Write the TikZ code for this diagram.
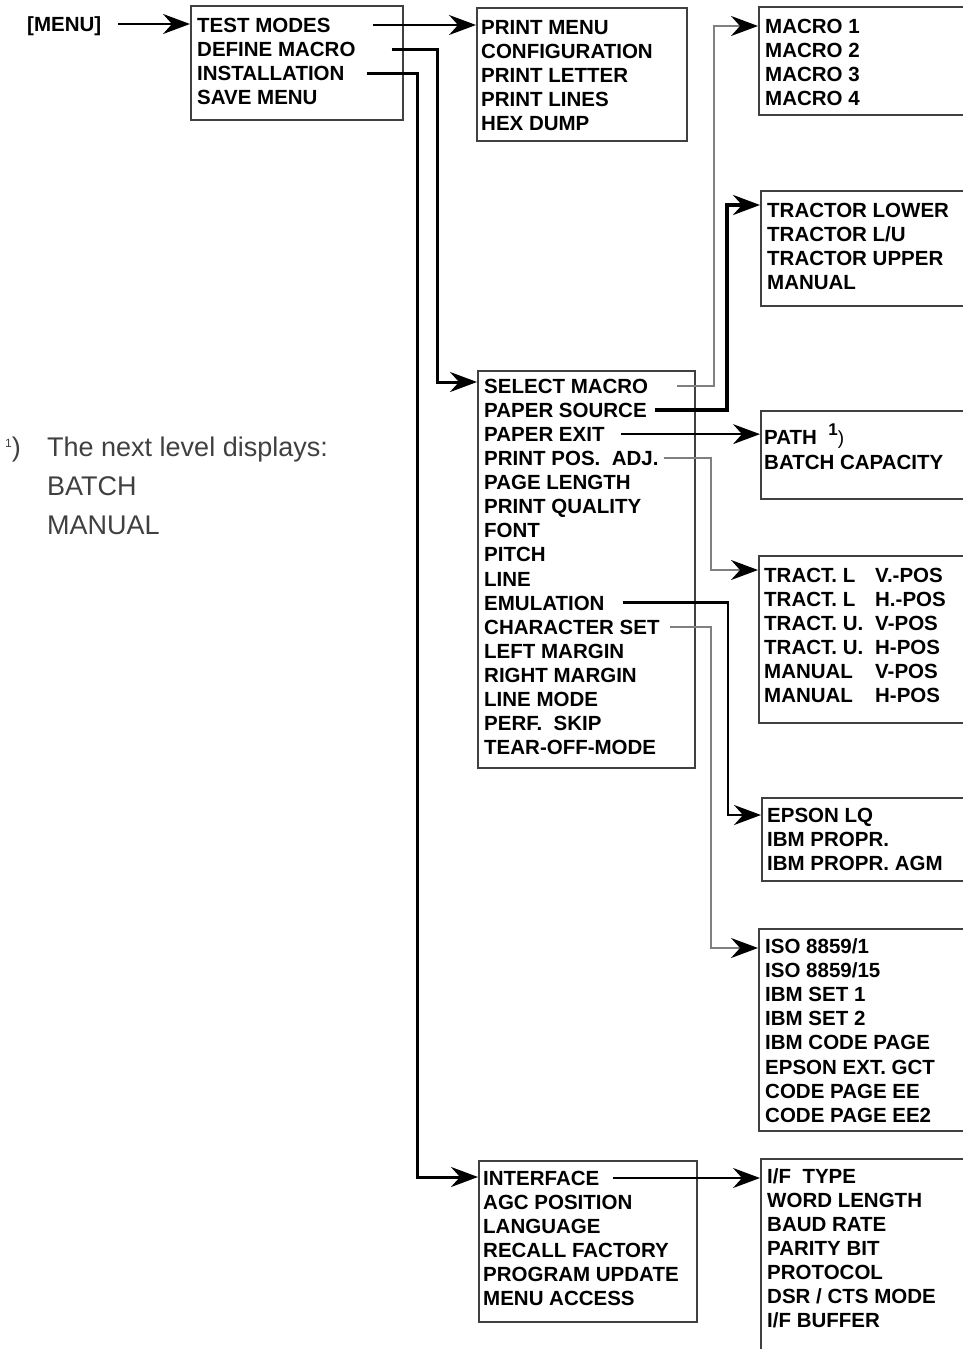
\documentclass[tikz,border=0pt]{standalone}
\usepackage{fontspec}
\setmainfont{Liberation Sans}
\usetikzlibrary{arrows.meta, positioning}

\newcommand{\itemfont}{\bfseries\fontsize{20.5}{24}\selectfont}
\newcommand{\notefont}{\fontsize{27}{30}\selectfont}

\tikzset{
  box/.style={draw=black!75, line width=1.8pt, anchor=north west, inner sep=0pt},
  item/.style={anchor=west, inner sep=0pt, text height=15pt, text depth=0pt, font=\itemfont},
  note/.style={anchor=base west, inner sep=0pt, font=\notefont, text=black!75},
  arrow/.style={line width=2pt, -{Stealth[length=27pt,width=20pt,inset=9pt,color=black]}},
  greyline/.style={arrow, draw=black!50},
}

\begin{document}
\begin{tikzpicture}[x=1pt, y=-1pt]
    \useasboundingbox (0,0) rectangle (962,1349);

    % Menu boxes
    \node[box, minimum width=212pt, minimum height=114pt] (menu) at (190,5) {};
    \node[box, minimum width=210pt, minimum height=133pt] (test) at (476,7) {};
    \node[box, minimum width=217pt, minimum height=397pt] (sel) at (477,370) {};
    \node[box, minimum width=218pt, minimum height=161pt] (intf) at (478,1160) {};
    \node[box, minimum width=220pt, minimum height=108pt] (mac) at (758,6) {};
    \node[box, minimum width=220pt, minimum height=115pt] (trac) at (760,190) {};
    \node[box, minimum width=220pt, minimum height=88pt] (path) at (760,410) {};
    \node[box, minimum width=220pt, minimum height=167pt] (tract) at (758,555) {};
    \node[box, minimum width=220pt, minimum height=83pt] (eps) at (761,797) {};
    \node[box, minimum width=220pt, minimum height=202pt] (iso) at (758,928) {};
    \node[box, minimum width=220pt, minimum height=210pt] (ifc) at (760,1158) {};

    % Entries
    \foreach \txt [count=\i] in {TEST MODES, DEFINE MACRO, INSTALLATION, SAVE MENU}
        \node[item] (menu-\i) at (197, {25+24*(\i-1)}) {\txt};
    \foreach \txt [count=\i] in {PRINT MENU, CONFIGURATION, PRINT LETTER, PRINT LINES, HEX DUMP}
        \node[item] (test-\i) at (481, {27+24*(\i-1)}) {\txt};
    \foreach \txt [count=\i] in {SELECT MACRO, PAPER SOURCE, PAPER EXIT, PRINT POS.\ \ ADJ., PAGE LENGTH, PRINT QUALITY, FONT, PITCH, LINE, EMULATION, CHARACTER SET, LEFT MARGIN, RIGHT MARGIN, LINE MODE, PERF.\ \ SKIP, TEAR-OFF-MODE}
        \node[item] (sel-\i) at (484, {386+24.07*(\i-1)}) {\txt};
    \foreach \txt [count=\i] in {INTERFACE, AGC POSITION, LANGUAGE, RECALL FACTORY, PROGRAM UPDATE, MENU ACCESS}
        \node[item] (intf-\i) at (483, {1178+24*(\i-1)}) {\txt};
    \foreach \txt [count=\i] in {MACRO 1, MACRO 2, MACRO 3, MACRO 4}
        \node[item] (mac-\i) at (765, {26+24*(\i-1)}) {\txt};
    \foreach \txt [count=\i] in {TRACTOR LOWER, TRACTOR L/U, TRACTOR UPPER, MANUAL}
        \node[item] (trac-\i) at (767, {210+24*(\i-1)}) {\txt};
    \node[item] (path-1) at (764,437) {PATH\ \ \raisebox{9pt}{\fontsize{17}{17}\selectfont 1}{\mdseries\fontsize{19}{19}\selectfont)}};
    \node[item] (path-2) at (764,462) {BATCH CAPACITY};
    \foreach \a/\b [count=\i] in {TRACT. L/V.-POS, TRACT. L/H.-POS, TRACT. U./V-POS, TRACT. U./H-POS, MANUAL/V-POS, MANUAL/H-POS}
        \node[item] (tract-\i) at (764, {575+24*(\i-1)}) {\makebox[111pt][l]{\a}\b};
    \foreach \txt [count=\i] in {EPSON LQ, IBM PROPR., IBM PROPR. AGM}
        \node[item] (eps-\i) at (767, {815+24*(\i-1)}) {\txt};
    \foreach \txt [count=\i] in {ISO 8859/1, ISO 8859/15, IBM SET 1, IBM SET 2, IBM CODE PAGE, EPSON EXT. GCT, CODE PAGE EE, CODE PAGE EE2}
        \node[item] (iso-\i) at (765, {946+24.1*(\i-1)}) {\txt};
    \foreach \txt [count=\i] in {I/F\ \ TYPE, WORD LENGTH, BAUD RATE, PARITY BIT, PROTOCOL, DSR / CTS MODE, I/F BUFFER}
        \node[item] (ifc-\i) at (767, {1176+24*(\i-1)}) {\txt};

    % Start label and footnote
    \node[item] (start) at (27,24) {[MENU]};
    \node[note] (fn) at (5,456) {\raisebox{9pt}{\fontsize{12}{12}\selectfont 1})};
    \node[note] (fn-1) at (47,456) {The next level displays:};
    \node[note] (fn-2) at (47,495) {BATCH};
    \node[note] (fn-3) at (47,534) {MANUAL};

    % Connections
    \draw[arrow] ([xshift=17pt]start.east) -- (menu.west |- start.east);
    \draw[arrow] ([xshift=42pt]menu-1.east) -- (test.west |- menu-1.east);
    \draw[arrow, line width=3pt] ([xshift=36pt]menu-2.east) -| ([xshift=-40pt,yshift=-12pt]sel.north west) -- ([yshift=-12pt]sel.north west);
    \draw[arrow, line width=3pt] ([xshift=22pt]menu-3.east) -| ([xshift=-61pt,yshift=-17pt]intf.north west) -- ([yshift=-17pt]intf.north west);
    \draw[greyline] ([xshift=29pt]sel-1.east) -| ([xshift=-44pt,yshift=-20pt]mac.north west) -- ([yshift=-20pt]mac.north west);
    \draw[arrow, line width=4pt] ([xshift=8pt]sel-2.east) -| ([xshift=-33pt,yshift=-15pt]trac.north west) -- ([yshift=-15pt]trac.north west);
    \draw[arrow] ([xshift=16pt]sel-3.east) -- (path.west |- sel-3.east);
    \draw[greyline] ([xshift=5pt]sel-4.east) -| ([xshift=-47pt,yshift=-15pt]tract.north west) -- ([yshift=-15pt]tract.north west);
    \draw[arrow, line width=2.5pt] ([xshift=18pt]sel-10.east) -| ([xshift=-33pt,yshift=-18pt]eps.north west) -- ([yshift=-18pt]eps.north west);
    \draw[greyline] ([xshift=10pt]sel-11.east) -| ([xshift=-47pt,yshift=-20pt]iso.north west) -- ([yshift=-20pt]iso.north west);
    \draw[arrow] ([xshift=13pt]intf-1.east) -- (ifc.west |- intf-1.east);

\end{tikzpicture}
\end{document}
